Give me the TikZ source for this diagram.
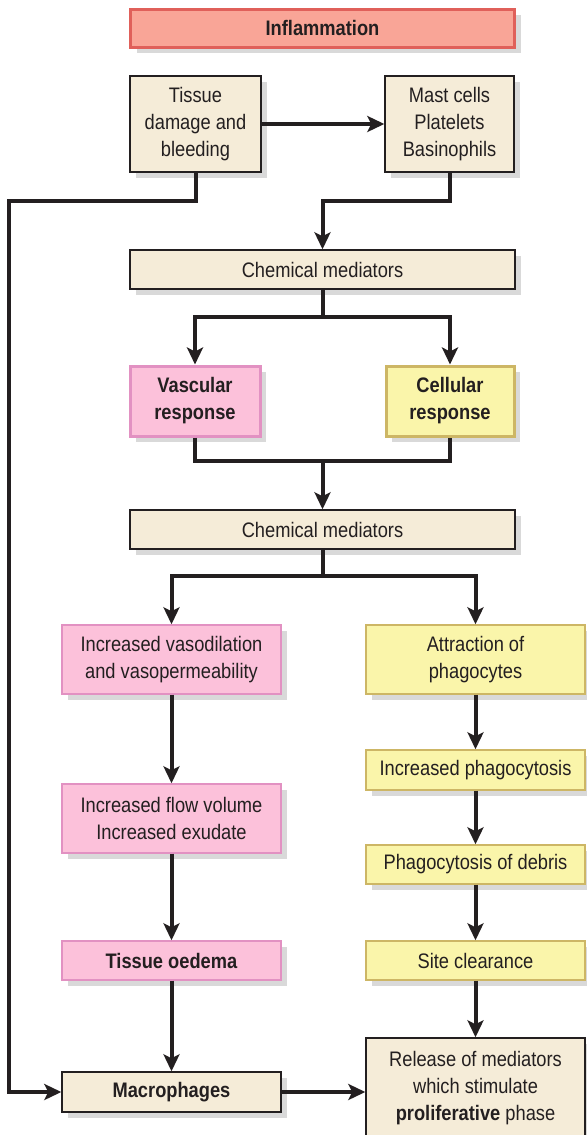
\documentclass[tikz,border=0pt]{standalone}
\usepackage{fontspec}
\setmainfont{Liberation Sans}[FakeStretch=0.87]
\usetikzlibrary{arrows.meta, positioning, shadows, calc}

\definecolor{beige}{HTML}{F5ECD8}
\definecolor{pinkfill}{HTML}{FCC1DA}
\definecolor{pinkline}{HTML}{E291C2}
\definecolor{yelfill}{HTML}{FAF5AA}
\definecolor{yelline}{HTML}{CDB665}
\definecolor{redfill}{HTML}{F9A597}
\definecolor{redline}{HTML}{E0605A}
\definecolor{shade}{HTML}{D9D9D9}
\definecolor{ink}{HTML}{231F20}

\begin{document}
\begin{tikzpicture}[
  x=0.5pt, y=-0.5pt,
  every node/.style={text=ink, font=\fontsize{10.5}{13.5}\selectfont},
  box/.style={draw=ink, line width=0.7pt, fill=beige, align=center, inner sep=0pt,
              drop shadow={shadow xshift=3pt, shadow yshift=-3pt, fill=shade, opacity=1}},
  pinkbox/.style={box, draw=pinkline, fill=pinkfill},
  yelbox/.style={box, draw=yelline, fill=yelfill},
  wide/.style={minimum width=109.5pt},
  arr/.style={-{Stealth[length=8.5pt, width=8pt, inset=2pt]}, line width=2pt, draw=ink},
  wire/.style={line width=2pt, draw=ink}
]
\useasboundingbox (0,0) rectangle (587,1135);

% top part
\node[box, draw=redline, fill=redfill, line width=1.5pt, minimum width=192pt, minimum height=19pt]
  (infl) at (322.5,28) {\textbf{Inflammation}};
\node[box, minimum width=65.5pt, minimum height=48pt] (tissue) at (195.5,124)
  {Tissue\\damage and\\bleeding};
\node[box, minimum width=64.5pt, minimum height=48pt] (mast) at (449.5,124)
  {Mast cells\\Platelets\\Basinophils};
\node[box, minimum width=192.5pt, minimum height=19.5pt] (chemA) at (322.5,269.5)
  {Chemical mediators};
\node[pinkbox, line width=1.5pt, minimum width=65pt, minimum height=35pt] (vasc) at (195,401)
  {\textbf{Vascular}\\\textbf{response}};
\node[yelbox, line width=1.5pt, minimum width=64pt, minimum height=35pt] (cell) at (450,401)
  {\textbf{Cellular}\\\textbf{response}};
\node[box, minimum width=192.5pt, minimum height=19.5pt] (chemB) at (322.5,529.5)
  {Chemical mediators};

% left column
\node[pinkbox, wide, minimum height=34.5pt] (vaso) at (171.5,659.5)
  {Increased vasodilation\\and vasopermeability};
\node[pinkbox, wide, minimum height=34.5pt] (flow) at (171.5,818.5)
  {Increased flow volume\\Increased exudate};
\node[pinkbox, wide, minimum height=19.5pt] (oedema) at (171.5,960.5)
  {\textbf{Tissue oedema}};
\node[box, wide, minimum height=20pt] (macro) at (171.5,1092)
  {\textbf{Macrophages}};

% right column
\node[yelbox, wide, minimum height=34.5pt] (attr) at (475.5,659.5)
  {Attraction of\\phagocytes};
\node[yelbox, wide, minimum height=20pt] (phago) at (475.5,770)
  {Increased phagocytosis};
\node[yelbox, wide, minimum height=19.5pt] (debris) at (475.5,864.5)
  {Phagocytosis of debris};
\node[yelbox, wide, minimum height=19.5pt] (site) at (475.5,960.5)
  {Site clearance};
\node[box, wide, minimum height=50pt] (release) at (475.5,1088)
  {Release of mediators\\which stimulate\\\textbf{proliferative} phase};

% connectors
\draw[arr] (tissue) -- (mast);
\draw[arr] (tissue.south) -- ++(0,28) -| ([xshift=-26pt]macro.west) -- (macro.west);
\draw[arr] (mast.south) -- ++(0,28) -| (chemA.north);
\draw[arr] (chemA.south) -- ++(0,27) -| (vasc.north);
\draw[arr] (chemA.south) -- ++(0,27) -| (cell.north);
\coordinate (join) at ($(chemB.north)+(0,-48)$);
\draw[wire] (vasc.south) |- (join) -| (cell.south);
\draw[arr] (join) -- (chemB.north);
\draw[arr] (chemB.south) -- ++(0,26) -| (vaso.north);
\draw[arr] (chemB.south) -- ++(0,26) -| (attr.north);
\draw[arr] (vaso) -- (flow);
\draw[arr] (flow) -- (oedema);
\draw[arr] (oedema) -- (macro);
\draw[arr] (attr) -- (phago);
\draw[arr] (phago) -- (debris);
\draw[arr] (debris) -- (site);
\draw[arr] (site) -- (release);
\draw[arr] (macro.east) -- (macro.east -| release.west);
\end{tikzpicture}
\end{document}
